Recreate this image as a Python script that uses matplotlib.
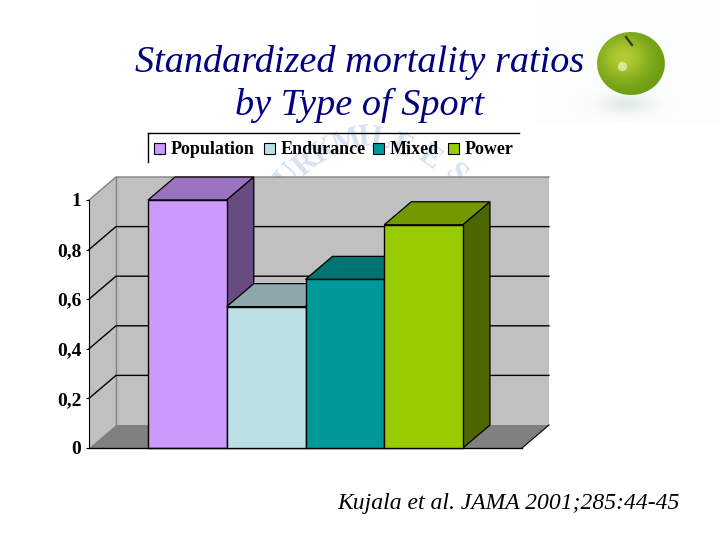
import numpy as np
import matplotlib
matplotlib.use("Agg")
import matplotlib.pyplot as plt
from matplotlib.patches import Polygon, Rectangle

series = ['Population', 'Endurance', 'Mixed', 'Power']
values = [1.0, 0.57, 0.68, 0.90]
y_ticks = [0, 0.2, 0.4, 0.6, 0.8, 1]
y_tick_labels = ['0', '0,2', '0,4', '0,6', '0,8', '1']
front_colors = ['#CC99FF', '#BBE0E3', '#009999', '#99CC00']
top_colors = ['#9A73C0', '#8CA8AA', '#007373', '#739900']
side_colors = ['#664C80', '#5E7072', '#004D4D', '#4D6600']
legend_x = [154, 264, 373, 448]
watermark = [('U', 288, 177, 48), ('R', 306, 164, 40), ('K', 325, 152, 30),
             ('M', 347, 142, 18), ('I', 364, 138, 5), ('L', 381, 140, -8),
             ('E', 402, 147, -22), ('E', 429, 158, -35), ('S', 455, 174, -48)]

plt.rcParams['font.family'] = ['Liberation Serif', 'DejaVu Serif']

fig = plt.figure(figsize=(7.2, 5.4), dpi=100)

# capa de fondo en pixeles: manzana, marca de agua, titulo y leyenda
bg = fig.add_axes([0, 0, 1, 1], zorder=1)
bg.set_xlim(0, 720)
bg.set_ylim(540, 0)
bg.axis('off')

bg.add_patch(Rectangle((536, 0), 184, 123, fc='#FCFEFE', ec='none'))

xx, yy = np.meshgrid(np.arange(536, 720) + 0.5, np.arange(0, 123) + 0.5)
shadow = np.exp(-(((xx - 626) / 26) ** 2 + ((yy - 104) / 10) ** 2))
img = np.ones(xx.shape + (4,))
img[..., 0] = 0.80
img[..., 1] = 0.87
img[..., 2] = 0.85
img[..., 3] = 0.55 * shadow
bg.imshow(img, extent=(536, 720, 123, 0), zorder=1, aspect='auto')

r = np.sqrt(((xx - 631) / 34.5) ** 2 + ((yy - 63.5) / 32) ** 2)
light = np.exp(-(((xx - 624) / 27) ** 2 + ((yy - 58) / 24) ** 2))
apple = np.zeros(xx.shape + (4,))
apple[..., 0] = 0.40 + 0.30 * light
apple[..., 1] = 0.60 + 0.20 * light
apple[..., 2] = 0.06 + 0.14 * light
apple[..., 3] = np.clip((1 - r) * 30, 0, 1)
bg.imshow(apple, extent=(536, 720, 123, 0), zorder=2, aspect='auto')
bg.set_xlim(0, 720)
bg.set_ylim(540, 0)
bg.plot([626, 632], [37, 45], color='#2E3A10', lw=1.6, zorder=3)
bg.scatter([622], [66], s=45, color='#E4EFB0', alpha=0.8, lw=0, zorder=3)

for letra, wx, wy, ang in watermark:
    bg.text(wx, wy, letra, color='#D5E3F2', fontsize=22, fontweight='bold',
            rotation=ang, ha='center', va='center', zorder=1)

bg.text(360, 62, 'Standardized mortality ratios', color='#000080', fontsize=27.5,
        style='italic', ha='center', va='center', zorder=5)
bg.text(360, 105, 'by Type of Sport', color='#000080', fontsize=27.5,
        style='italic', ha='center', va='center', zorder=5)
bg.text(508, 503, 'Kujala et al. JAMA 2001;285:44-45', color='black', fontsize=17,
        style='italic', ha='center', va='center', zorder=5)

# leyenda recortada (solo lineas superior e izquierda)
bg.plot([148, 519], [133, 133], color='black', lw=1, zorder=4)
bg.plot([148, 148], [133, 162], color='black', lw=1, zorder=4)
for nombre, color, lx in zip(series, front_colors, legend_x):
    bg.add_patch(Rectangle((lx, 143), 11, 11, fc=color, ec='black', lw=0.8, zorder=4))
    bg.text(lx + 17, 149, nombre, fontsize=13, fontweight='bold', color='black',
            ha='left', va='center', zorder=5)

# grafica: eje de valores real, la profundidad se dibuja a mano
ax = fig.add_axes([89 / 720, 1 - 448 / 540, 433 / 720, 248 / 540], zorder=2)
ax.patch.set_alpha(0)
x_min, x_max = -1.25, 4.25
ax.set_xlim(x_min, x_max)
ax.set_ylim(0, 1)
dx = 27 / 78.75
dy = 23 / 248
ancho = 1.0

pared = '#C0C0C0'
suelo = '#808080'
ax.add_patch(Polygon([(x_min + dx, dy), (x_max + dx, dy), (x_max + dx, 1 + dy), (x_min + dx, 1 + dy)],
                     fc=pared, ec='none', clip_on=False, zorder=1))
ax.add_patch(Polygon([(x_min, 0), (x_min + dx, dy), (x_min + dx, 1 + dy), (x_min, 1)],
                     fc=pared, ec='none', clip_on=False, zorder=1))
ax.add_patch(Polygon([(x_min, 0), (x_max, 0), (x_max + dx, dy), (x_min + dx, dy)],
                     fc=suelo, ec='none', clip_on=False, zorder=1))
ax.plot([x_min, x_min + dx, x_max + dx], [1, 1 + dy, 1 + dy], color='#808080', lw=1,
        clip_on=False, zorder=1.2)
ax.plot([x_min + dx, x_min + dx], [dy, 1 + dy], color='#808080', lw=1, clip_on=False, zorder=1.2)
ax.plot([x_max, x_max + dx], [0, dy], color='black', lw=0.8, clip_on=False, zorder=1.5)

for v in y_ticks[1:-1]:
    ax.plot([x_min, x_min + dx, x_max + dx], [v, v + dy, v + dy], color='black', lw=1,
            clip_on=False, zorder=1.5)

for i, v in enumerate(values):
    izq = i - ancho / 2
    der = i + ancho / 2
    z = 2 + i
    ax.add_patch(Polygon([(izq, v), (der, v), (der + dx, v + dy), (izq + dx, v + dy)],
                         fc=top_colors[i], ec='black', lw=0.9, clip_on=False, zorder=z))
    ax.add_patch(Polygon([(der, 0), (der + dx, dy), (der + dx, v + dy), (der, v)],
                         fc=side_colors[i], ec='black', lw=0.9, clip_on=False, zorder=z))
    ax.bar(i, v, width=ancho, color=front_colors[i], edgecolor='black', lw=1.0,
           clip_on=False, zorder=z + 0.5)

ax.set_xticks([])
ax.set_yticks(y_ticks)
ax.set_yticklabels(y_tick_labels, fontsize=14, fontweight='bold')
ax.tick_params(axis='y', length=2.5, width=0.8, pad=3)
ax.spines['top'].set_visible(False)
ax.spines['right'].set_visible(False)
ax.spines['left'].set_linewidth(0.8)
ax.spines['bottom'].set_linewidth(1.0)

fig.savefig('out.png', dpi=100)
